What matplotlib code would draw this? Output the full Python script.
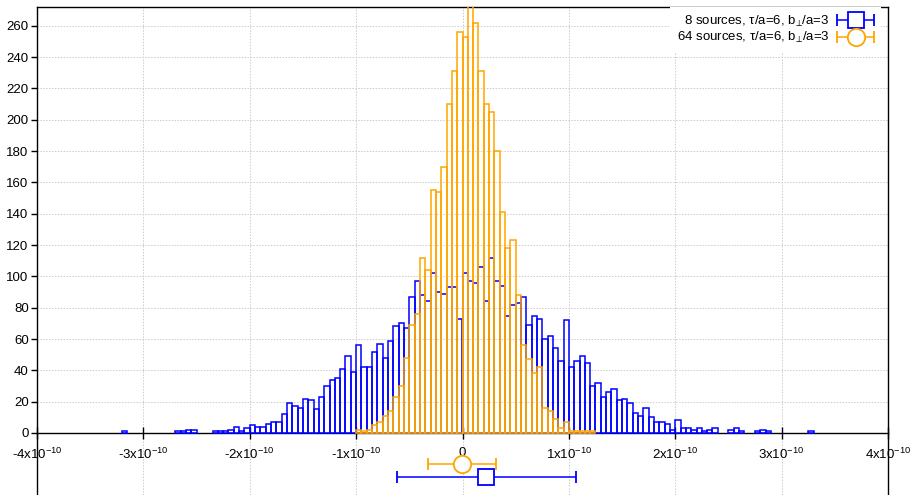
import numpy as np
import matplotlib.pyplot as plt
from matplotlib.container import ErrorbarContainer
from matplotlib.legend_handler import HandlerErrorbar

plt.rcParams['font.family'] = ['Liberation Sans', 'DejaVu Sans']
plt.rcParams['mathtext.default'] = 'regular'

# histogram bins are 5e-12 wide; bins given by lower-edge index
bin_width = 5e-12

blue_bins = [-64, -54, -53, -52, -51,
             -47, -46, -45, -44, -43, -42, -41, -40, -39, -38, -37, -36, -35,
             -34, -33, -32, -31, -30, -29, -28, -27, -26, -25, -24, -23, -22, -21,
             -20, -19, -18, -17, -16, -15, -14, -13, -12, -11,
             -10, -9, -8, -7, -6, -5, -4, -3, -2, -1,
             0, 1, 2, 3, 4, 5, 6, 7, 8, 9,
             10, 11, 12, 13, 14, 15, 16, 17, 18, 19,
             20, 21, 22, 23, 24, 25, 26, 27, 28, 29,
             30, 31, 32, 33, 34, 35, 36, 37, 38, 39,
             40, 41, 42, 43, 44, 45, 46, 47,
             50, 51, 52, 55, 56, 57, 65]
blue_counts = [1, 1, 1, 2, 2,
               1, 1, 1, 2, 4, 1, 3, 5, 4, 4, 6, 7, 7,
               12, 19, 17, 16, 22, 21, 15, 23, 30, 34, 35, 41, 49, 39,
               56, 42, 42, 52, 57, 48, 59, 68, 70, 67,
               87, 97, 88, 84, 102, 90, 89, 93, 93, 73,
               102, 97, 96, 106, 84, 112, 97, 94, 75, 82,
               83, 87, 69, 75, 73, 60, 62, 54, 46, 72,
               42, 46, 49, 45, 30, 32, 23, 26, 28, 21,
               22, 19, 13, 11, 16, 10, 7, 7, 6, 2,
               8, 3, 3, 2, 3, 1, 2, 3,
               2, 3, 1, 1, 2, 1, 1]

orange_bins = list(range(-20, 25))
orange_counts = [2, 1, 2, 5, 7, 11, 14, 23, 30, 48,
                 69, 76, 112, 104, 155, 154, 170, 210, 231, 256,
                 253, 276, 262, 231, 210, 205, 180, 141, 118, 123,
                 88, 56, 47, 38, 42, 16, 14, 9, 3, 7,
                 1, 1, 1, 1, 1]

# mean and spread of each sample, drawn below the histogram
blue_mean, blue_err, blue_level = 2.24e-11, 8.42e-11, -28
orange_mean, orange_err, orange_level = -0.06e-11, 3.2e-11, -20

blue_label = '8 sources, τ/a=6, b$_{⊥}$/a=3'
orange_label = '64 sources, τ/a=6, b$_{⊥}$/a=3'

xticks = [-4e-10, -3e-10, -2e-10, -1e-10, 0, 1e-10, 2e-10, 3e-10, 4e-10]
xticklabels = ['-4x10$^{-10}$', '-3x10$^{-10}$', '-2x10$^{-10}$', '-1x10$^{-10}$', '0',
               '1x10$^{-10}$', '2x10$^{-10}$', '3x10$^{-10}$', '4x10$^{-10}$']

blue = '#0000ff'
orange = '#ffa500'

fig = plt.figure(figsize=(9.14, 4.95), dpi=100)
ax = fig.add_axes([37 / 914, 0, 851 / 914, 488 / 495])

ax.bar(np.array(blue_bins) * bin_width, blue_counts, width=bin_width, align='edge',
       fill=False, edgecolor=blue, linewidth=1.1, zorder=3)
ax.bar(np.array(orange_bins) * bin_width, orange_counts, width=bin_width, align='edge',
       fill=False, edgecolor=orange, linewidth=1.1, zorder=3)

ax.errorbar(blue_mean, blue_level, xerr=blue_err, fmt='s', color=blue, mfc='white',
            mec=blue, ms=12, mew=1.3, elinewidth=1.1, capsize=4.5, capthick=1.1,
            label=blue_label, zorder=4)
ax.errorbar(orange_mean, orange_level, xerr=orange_err, fmt='o', color=orange, mfc='white',
            mec=orange, ms=12.5, mew=1.3, elinewidth=1.1, capsize=4.5, capthick=1.1,
            label=orange_label, zorder=4)

ax.set_xlim(-4e-10, 4e-10)
ax.set_ylim(-39.6, 272)
ax.set_xticks(xticks)
ax.set_xticklabels(xticklabels)
ax.set_yticks(np.arange(0, 261, 20))

ax.spines['bottom'].set_position(('data', 0))
for s in ax.spines.values():
    s.set_linewidth(1.0)
    s.set_color('black')

ax.tick_params(axis='x', direction='inout', length=9, width=1, pad=5.5, labelsize=9.5)
ax.tick_params(axis='y', direction='out', length=4.5, width=1, pad=1.5, labelsize=9.5)

ax.grid(True, color='#cccccc', linestyle=(0, (1.5, 1.5)), linewidth=0.7)
ax.set_axisbelow(True)

leg = ax.legend(loc='upper right', bbox_to_anchor=(1 - 7 / 851, 1), borderaxespad=0,
                borderpad=0.5, markerfirst=False, fontsize=9.5, handlelength=2.8,
                handletextpad=0.6, labelspacing=0.12, frameon=True, fancybox=False,
                framealpha=1, facecolor='white', edgecolor='none',
                handler_map={ErrorbarContainer: HandlerErrorbar(xerr_size=1.4)})

fig.savefig('out.png', dpi=100)
